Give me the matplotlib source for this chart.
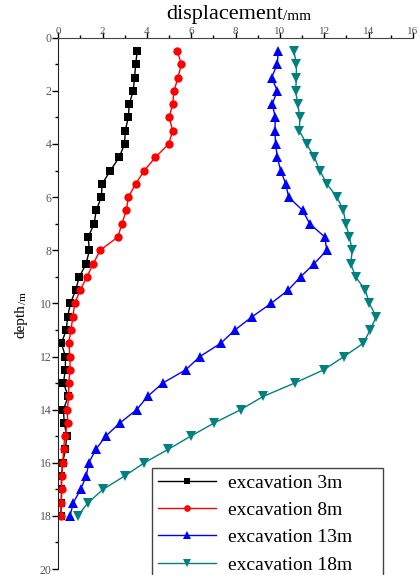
import numpy as np
import matplotlib
matplotlib.use("Agg")
import matplotlib.pyplot as plt

depth = np.arange(0.5, 18.01, 0.5)

exc_3m = [3.56, 3.49, 3.44, 3.38, 3.20, 3.16, 3.02, 2.99, 2.75, 2.35,
          1.98, 1.94, 1.71, 1.62, 1.35, 1.40, 1.26, 0.95, 0.78, 0.55,
          0.42, 0.36, 0.14, 0.32, 0.32, 0.23, 0.45, 0.23, 0.27, 0.38,
          0.32, 0.20, 0.14, 0.14, 0.14, 0.11]
exc_8m = [5.37, 5.55, 5.40, 5.22, 5.16, 5.00, 5.16, 4.98, 4.38, 3.88,
          3.49, 3.16, 3.07, 2.87, 2.69, 1.89, 1.58, 1.29, 0.99, 0.74,
          0.66, 0.57, 0.47, 0.53, 0.53, 0.47, 0.47, 0.41, 0.42, 0.29,
          0.24, 0.20, 0.15, 0.15, 0.14, 0.11]
exc_13m = [9.92, 9.88, 9.62, 9.88, 9.65, 9.79, 9.77, 9.80, 9.88, 10.03,
           10.26, 10.39, 11.02, 11.34, 12.02, 12.11, 11.55, 10.93, 10.37, 9.60,
           8.75, 7.97, 7.33, 6.39, 5.75, 4.71, 4.03, 3.54, 2.78, 2.14,
           1.69, 1.38, 1.26, 1.01, 0.68, 0.53]
exc_18m = [10.63, 10.74, 10.74, 10.71, 10.80, 10.90, 10.87, 11.20, 11.55, 11.80,
           12.11, 12.57, 12.86, 12.97, 13.13, 13.26, 13.19, 13.41, 13.85, 14.03,
           14.34, 14.07, 13.76, 12.89, 11.98, 10.66, 9.25, 8.23, 7.04, 5.97,
           4.95, 3.88, 2.99, 2.02, 1.35, 0.87]

labels = ["excavation 3m", "excavation 8m", "excavation 13m", "excavation 18m"]
x_ticks = np.arange(0, 17, 2)
y_ticks = np.arange(0, 21, 2)

plt.rcParams['font.family'] = ['Liberation Serif', 'DejaVu Serif']

fig = plt.figure(figsize=(4.2, 5.75), dpi=100)
ax = fig.add_axes([0.1388, 0.0104, 0.8445, 0.924])

series = [(exc_3m, "black", "s", 6), (exc_8m, "red", "o", 6),
          (exc_13m, "blue", "^", 7), (exc_18m, "#008080", "v", 7)]
for (vals, c, m, ms), lab in zip(series, labels):
    ax.plot(vals, depth, '-', color=c, marker=m, markersize=ms, lw=1,
            markeredgewidth=0, label=lab)

ax.set_xlim(0, 16)
ax.set_ylim(20, 0)
ax.xaxis.tick_top()
ax.set_xticks(x_ticks)
ax.set_xticks(np.arange(1, 16, 2), minor=True)
ax.set_yticks(y_ticks)
ax.set_yticks(np.arange(1, 20, 2), minor=True)
ax.tick_params(which='major', direction='out', length=4, width=1,
               labelsize=8.5, labelcolor='#555555', pad=1)
ax.tick_params(axis='x', which='major', labelsize=8, pad=-2.5)
ax.tick_params(which='minor', direction='out', length=2, width=1)
ax.spines['right'].set_visible(False)
ax.spines['bottom'].set_visible(False)
ax.spines['left'].set_color('#222222')
ax.spines['top'].set_color('#444444')

# axis titles with a smaller unit part
t = fig.text(283 / 420, 1 - 19.5 / 575, "displacement", fontsize=16,
             ha='right', va='baseline')
ax.annotate("/mm", xy=(1, 1 - 19.5 / 575), xycoords=(t, 'figure fraction'),
            fontsize=11, ha='left', va='baseline')
d = fig.text(28 / 420, 1 - 338 / 575, "depth", fontsize=11, rotation=90,
             ha='right', va='bottom')
ax.annotate("/m", xy=(28 / 420, 1), xycoords=('figure fraction', d),
            fontsize=8, rotation=90, ha='right', va='bottom')

leg = ax.legend(loc='upper left', bbox_to_anchor=(0.264, 0.0, 0.651, 0.19),
                mode='expand', fontsize=14,
                handlelength=3.0, handletextpad=0.6, labelspacing=0.5,
                borderpad=0.3, borderaxespad=0, fancybox=False, framealpha=1,
                edgecolor='#444444', markerscale=0.8)
leg.get_frame().set_linewidth(1)

fig.savefig("out.png", dpi=100)
